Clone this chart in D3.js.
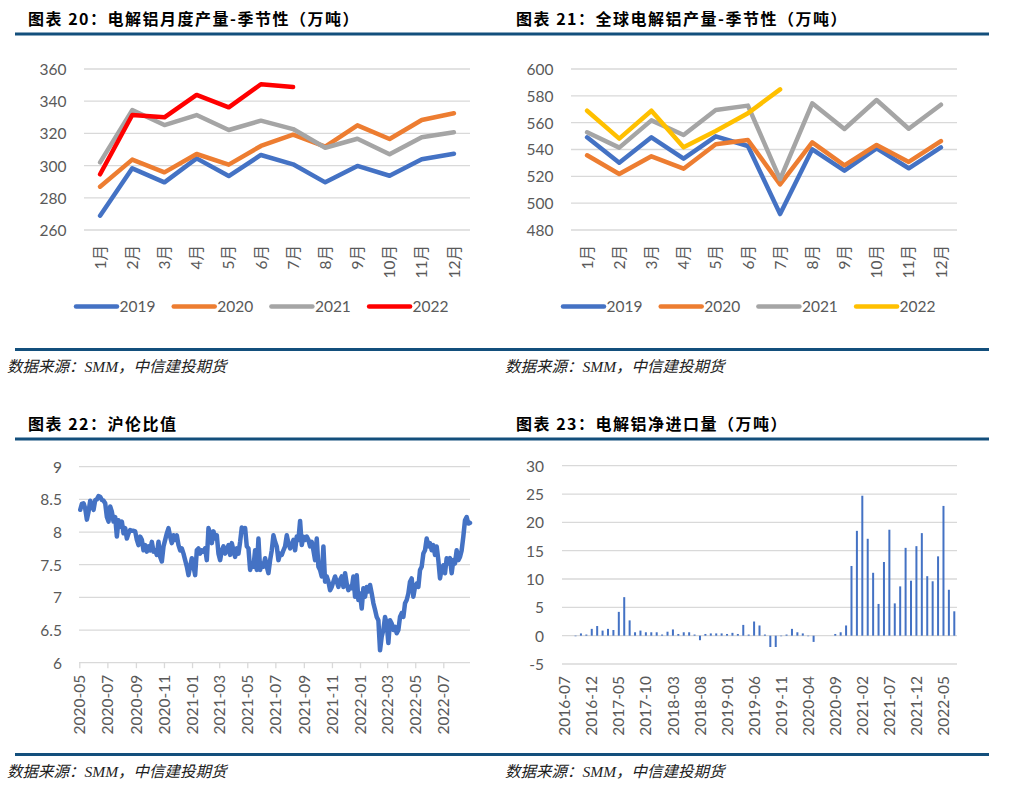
<!DOCTYPE html>
<html><head><meta charset="utf-8">
<script src="https://cdn.jsdelivr.net/npm/d3@7"></script>
<style>body{margin:0;background:#fff} svg{display:block}</style>
</head><body><svg id="c" width="1011" height="789"></svg>
<script>
// ---------- DATA ----------
const months = ["1月","2月","3月","4月","5月","6月","7月","8月","9月","10月","11月","12月"];
const years = ["2019","2020","2021","2022"];

// 图表20 电解铝月度产量（万吨）
const cnProd2019 = [268.9,298.3,289.6,304.5,293.5,306.6,300.8,289.6,299.8,293.7,303.9,307.4];
const cnProd2020 = [286.9,303.7,295.8,307.2,300.6,312.2,319.2,311.8,325.0,316.5,328.3,332.5];
const cnProd2021 = [302.0,334.5,325.2,331.4,322.1,327.9,322.7,311.1,316.7,307.0,317.6,320.7];
const cnProd2022 = [294.6,331.4,330.0,343.9,336.2,350.5,348.8];
const cnTicks = [260,280,300,320,340,360];

// 图表21 全球电解铝产量（万吨）
const glProd2019 = [549.1,530.2,549.1,533.2,549.8,542.6,491.9,540.1,524.2,540.9,526.0,541.6];
const glProd2020 = [535.7,521.7,534.9,525.7,543.9,547.1,514.0,545.3,528.2,543.4,530.7,546.3];
const glProd2021 = [552.8,541.4,561.7,550.8,569.4,572.7,517.8,574.4,555.3,576.9,555.5,573.4];
const glProd2022 = [568.9,548.1,568.9,541.6,553.8,567.0,584.8];
const glTicks = [480,500,520,540,560,580,600];

// 图表22 沪伦比值 (sampled evenly from first to last date)
const ratioStart = "2020-05-03", ratioEnd = "2022-08-28";
const ratioValues = [
8.34,8.43,8.44,8.36,8.19,8.31,8.48,8.41,8.34,8.49,8.50,8.55,8.54,8.49,8.48,8.44,8.23,8.16,8.39,8.31,
8.16,8.23,7.93,8.18,8.08,8.16,7.98,8.06,7.90,7.98,8.03,8.02,8.02,8.01,7.88,7.80,7.93,7.88,7.72,7.80,
7.70,7.78,7.72,7.85,7.70,7.72,7.65,7.85,7.62,7.55,7.78,7.88,7.98,8.06,7.93,7.83,7.95,7.88,7.95,7.80,
7.72,7.75,7.67,7.57,7.47,7.34,7.47,7.60,7.47,7.34,7.72,7.75,7.67,7.72,7.70,7.75,7.57,8.06,7.98,7.83,
8.01,7.90,7.95,7.67,7.57,7.72,7.78,7.67,7.72,7.80,7.65,7.83,7.72,7.62,7.75,7.67,7.85,8.07,8.01,8.06,
7.78,7.75,7.42,7.52,7.47,7.72,7.42,7.90,7.42,7.52,7.47,7.60,7.47,7.37,7.57,7.72,7.95,7.85,7.78,7.57,
7.67,7.65,7.72,7.78,7.95,7.83,7.75,7.80,7.88,7.72,7.93,7.88,8.17,7.80,7.93,7.88,7.93,7.88,7.78,7.85,
7.72,7.57,7.90,7.47,7.42,7.32,7.78,7.24,7.32,7.24,7.11,7.16,7.24,7.32,7.24,7.16,7.27,7.32,7.16,7.37,
7.21,7.11,7.16,7.14,7.32,7.01,7.34,6.96,7.06,6.83,7.14,7.01,7.16,7.09,7.19,7.06,6.91,6.81,6.70,6.65,
6.19,6.40,6.50,6.70,6.60,6.30,6.65,6.60,6.50,6.55,6.45,6.50,6.70,6.76,6.70,6.91,6.96,7.06,7.24,7.29,
7.01,7.16,7.21,7.16,7.42,7.47,7.67,7.72,7.90,7.78,7.83,7.72,7.80,7.65,7.78,7.57,7.29,7.44,7.49,7.37,
7.60,7.52,7.60,7.37,7.57,7.52,7.72,7.57,7.62,7.72,7.93,8.18,8.23,8.13,8.14];
const ratioTicks = ["2020-05","2020-07","2020-09","2020-11","2021-01","2021-03","2021-05","2021-07","2021-09","2021-11","2022-01","2022-03","2022-05","2022-07"];
const ratioYTicks = [6,6.5,7,7.5,8,8.5,9];

// 图表23 电解铝净进口量（万吨）
const importMonths = [
"2016-07","2016-08","2016-09","2016-10","2016-11","2016-12",
"2017-01","2017-02","2017-03","2017-04","2017-05","2017-06","2017-07","2017-08","2017-09","2017-10","2017-11","2017-12",
"2018-01","2018-02","2018-03","2018-04","2018-05","2018-06","2018-07","2018-08","2018-09","2018-10","2018-11","2018-12",
"2019-01","2019-02","2019-03","2019-04","2019-05","2019-06","2019-07","2019-08","2019-09","2019-10","2019-11","2019-12",
"2020-01","2020-02","2020-03","2020-04","2020-05","2020-06","2020-07","2020-08","2020-09","2020-10","2020-11","2020-12",
"2021-01","2021-02","2021-03","2021-04","2021-05","2021-06","2021-07","2021-08","2021-09","2021-10","2021-11","2021-12",
"2022-01","2022-02","2022-03","2022-04","2022-05","2022-06","2022-07"];
const importValues = [0,0,-0.1,0.4,0.2,1.2,1.7,0.9,1.2,1.0,4.2,6.8,2.7,0.6,0.9,0.6,0.6,0.6,0.2,0.7,
1.1,0.3,0.6,0.6,0.2,-0.8,0.3,0.4,0.4,0.4,0.3,0.5,0.3,1.9,0.2,2.5,1.8,0.2,-2.0,-2.0,
-0.1,0.2,1.2,0.6,0.4,-0.1,-1.1,0,0,0,0.3,0.6,1.8,12.3,18.5,24.7,17.1,11.1,5.6,13.0,
18.7,5.7,8.7,15.5,9.7,15.8,18.1,10.5,9.6,14.0,22.9,8.1,4.3];
const importLabels = ["2016-07","2016-12","2017-05","2017-10","2018-03","2018-08","2019-01","2019-06","2019-11","2020-04","2020-09","2021-02","2021-07","2021-12","2022-05"];
const importYTicks = [-5,0,5,10,15,20,25,30];

const titles = ["图表 20：电解铝月度产量-季节性（万吨）","图表 21：全球电解铝产量-季节性（万吨）","图表 22：沪伦比值","图表 23：电解铝净进口量（万吨）"];
const sourceText = "数据来源：SMM，中信建投期货";

// ---------- STYLE ----------
const NUM_FONT = "Lato, 'Noto Sans CJK SC', sans-serif";
const TXT = "#595959", GRID = "#d9d9d9", RULE = "#134f7c";
const colors4a = ["#4472C4","#ED7D31","#A5A5A5","#FF0000"];
const colors4b = ["#4472C4","#ED7D31","#A5A5A5","#FFC000"];

const svg = d3.select("#c");
svg.append("rect").attr("width",1011).attr("height",789).attr("fill","#fff");

function header(x, title, ty, rx0, rx1, ry) {
  svg.append("text").attr("x",x).attr("y",ty).attr("dominant-baseline","central")
    .attr("font-family","'Noto Sans CJK SC', sans-serif").attr("font-weight",700)
    .attr("font-size",16).attr("letter-spacing",1.5).attr("fill","#000").text(title);
  svg.append("line").attr("x1",rx0).attr("x2",rx1).attr("y1",ry).attr("y2",ry)
    .attr("stroke",RULE).attr("stroke-width",3);
}
function footer(x, rx0, rx1, ry, ty) {
  svg.append("line").attr("x1",rx0).attr("x2",rx1).attr("y1",ry).attr("y2",ry)
    .attr("stroke",RULE).attr("stroke-width",3);
  svg.append("text").attr("x",x).attr("y",ty).attr("dominant-baseline","central")
    .attr("font-family","'Liberation Serif', 'Noto Sans CJK SC', serif").attr("font-style","italic")
    .attr("font-size",15.5).attr("fill","#222").text(sourceText);
}
function grid(y, ticks, x0, x1) {
  svg.append("g").selectAll("line").data(ticks).join("line")
    .attr("x1",x0).attr("x2",x1).attr("y1",d=>y(d)).attr("y2",d=>y(d))
    .attr("stroke",GRID).attr("stroke-width",1.3);
}
function yAxis(y, ticks, lx) {
  const g = svg.append("g").attr("transform",`translate(${lx},0)`)
    .call(d3.axisLeft(y).tickValues(ticks).tickSize(0).tickPadding(0).tickFormat(d=>String(d)));
  g.select(".domain").remove();
  g.attr("font-family",NUM_FONT).attr("font-size",15.5);
  g.selectAll("text").attr("fill",TXT).attr("dy","0.35em");
}
function xAxisRot(axis, ay, off, tickLen) {
  const g = svg.append("g").attr("transform",`translate(0,${ay})`).call(axis);
  g.select(".domain").remove();
  g.attr("font-family",NUM_FONT).attr("font-size",15.5);
  if (tickLen) g.selectAll(".tick line").attr("stroke",GRID).attr("stroke-width",1.3).attr("y2",tickLen);
  else g.selectAll(".tick line").remove();
  g.selectAll("text").attr("fill",TXT).attr("transform","rotate(-90)")
    .attr("x",-off).attr("y",0).attr("dy","0.36em").attr("text-anchor","end");
  return g;
}
function legend(x0, ly, cols) {
  const g = svg.append("g");
  const it = g.selectAll("g").data(years).join("g").attr("transform",(d,i)=>`translate(${x0+i*97.7},${ly})`);
  it.append("line").attr("x1",0).attr("x2",41).attr("stroke",(d,i)=>cols[i]).attr("stroke-width",4.5).attr("stroke-linecap","round");
  it.append("text").attr("x",43.5).attr("dy","0.35em").attr("font-family",NUM_FONT).attr("font-size",15.5).attr("fill",TXT).text(d=>d);
}

// ---------- PANEL 1 & 2 : seasonal lines ----------
function seasonal(xr, yDomain, ticks, series, cols, lx, legX) {
  const x = d3.scaleBand().domain(months).range(xr);
  const y = d3.scaleLinear().domain(yDomain).range([230,69]);
  grid(y, ticks, xr[0], xr[1]);
  yAxis(y, ticks, lx);
  xAxisRot(d3.axisBottom(x).tickSize(0), 230, 15, 0);
  const line = d3.line().x((d,i)=>x(months[i])+x.bandwidth()/2).y(d=>y(d));
  series.forEach((s,k)=>{
    svg.append("path").datum(s).attr("d",line).attr("fill","none")
      .attr("stroke",cols[k]).attr("stroke-width",4.5)
      .attr("stroke-linejoin","round").attr("stroke-linecap","round");
  });
  legend(legX, 306.5, cols);
}
header(28, titles[0], 17.5, 15, 500, 34);
header(516, titles[1], 17.5, 500, 989, 34);
seasonal([84,470],[260,360],cnTicks,[cnProd2019,cnProd2020,cnProd2021,cnProd2022],colors4a,66.5,76);
seasonal([571,957],[480,600],glTicks,[glProd2019,glProd2020,glProd2021,glProd2022],colors4b,553.5,563);
footer(7, 15, 500, 349.5, 366);
footer(505, 500, 989, 349.5, 366);

// ---------- PANEL 3 : ratio ----------
header(28, titles[2], 423, 15, 500, 439);
{
  const parse = d3.timeParse("%Y-%m-%d"), parseM = d3.timeParse("%Y-%m");
  const x = d3.scaleTime().domain([parseM("2020-05"), parseM("2022-07")]).range([79.3, 443.3]);
  const y = d3.scaleLinear().domain([6,9]).range([662.7,466.7]);
  grid(y, ratioYTicks.filter(d=>d>6), 79, 470);
  svg.append("line").attr("x1",79).attr("x2",470).attr("y1",y(6)).attr("y2",y(6)).attr("stroke",GRID).attr("stroke-width",1.3);
  yAxis(y, ratioYTicks, 62);
  const t0 = +parse(ratioStart), t1 = +parse(ratioEnd), n = ratioValues.length;
  const pts = ratioValues.map((v,i)=>({d:new Date(t0+i*(t1-t0)/(n-1)), v}));
  const tickDates = ratioTicks.map(parseM);
  xAxisRot(d3.axisBottom(x).tickValues(tickDates).tickFormat(d3.timeFormat("%Y-%m")), y(6), 12, 5.5);
  svg.append("path").datum(pts).attr("fill","none").attr("stroke","#4472C4").attr("stroke-width",4.5)
    .attr("stroke-linejoin","round").attr("stroke-linecap","round")
    .attr("d", d3.line().x(p=>x(p.d)).y(p=>y(p.v)));
}
footer(7, 15, 500, 754.5, 771.5);

// ---------- PANEL 4 : net import bars ----------
header(516, titles[3], 423, 500, 989, 439);
{
  const x = d3.scaleBand().domain(importMonths).range([562,957]);
  const y = d3.scaleLinear().domain([-5,30]).range([664,465.7]);
  grid(y, importYTicks, 562, 957);
  yAxis(y, importYTicks, 544);
  xAxisRot(d3.axisBottom(x).tickValues(importLabels).tickSize(0), y(-5), 12, 0);
  svg.append("g").selectAll("rect").data(importValues).join("rect")
    .attr("x",(d,i)=>x(importMonths[i])+x.bandwidth()/2-1)
    .attr("width",2)
    .attr("y",d=>y(Math.max(0,d)))
    .attr("height",d=>Math.abs(y(d)-y(0)))
    .attr("fill","#4472C4");
}
footer(505, 500, 989, 754.5, 771.5);
</script></body></html>
